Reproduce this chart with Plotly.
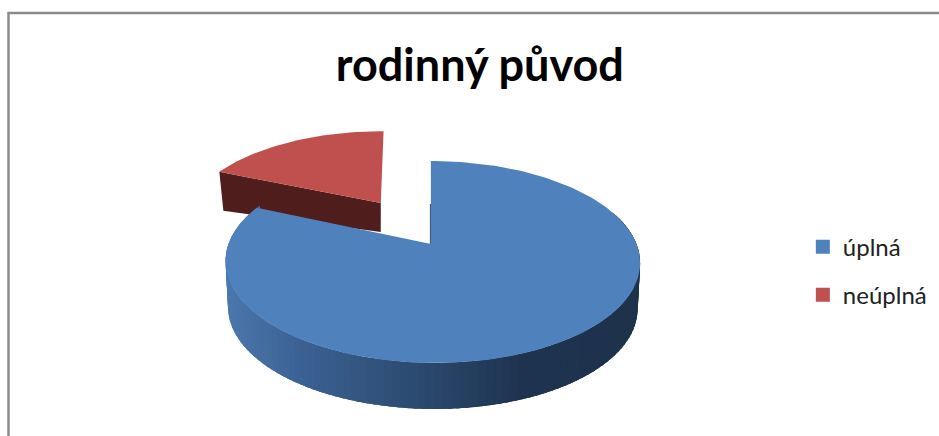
import numpy as np
import plotly.graph_objects as go

# --- data ---
title_text = "rodinný původ"
categories = ["úplná", "neúplná"]
values = [81.5, 18.5]
top_colors = ["#4f81bd", "#c0504d"]
red_side_color = "#4f1e1c"

# --- view of the pie (tilted disc seen with perspective) ---
W, H = 939, 436
CX, CY = 431.0, 244.0     # pixel position of the disc centre
R, B, K = 204.0, 97.8, 0.178
SHEAR_BLUE = 0.02
DEPTH = 46.0
BASE_SHRINK = 0.988
RED_OFFSET = (-0.266, -0.452)
SHEAR_RED = 0.06
RED_DEPTH_LEFT, RED_DEPTH_APEX = 39.0, 29.0


def project(X, Y, shear=0.0, ref=CY, shift=0.0):
    X, Y = np.asarray(X, float), np.asarray(Y, float)
    s = 1.0 / (1.0 - K * Y)
    y = CY + B * Y * s
    x = CX + shift + R * X * s + shear * (y - ref)
    return x, y


total = sum(values)
sweep = 360.0 * values[0] / total   # first slice clockwise from 12 o'clock

fig = go.Figure()

# --- second slice, pulled out ---
th = np.radians(np.linspace(sweep, 360.0, 50))
ox, oy = RED_OFFSET
ax, ay = project([ox], [oy])
ref_red = float(ay[0])
ax, ay = project([ox], [oy], SHEAR_RED, ref_red)
rx, ry = project(ox + np.sin(th), oy - np.cos(th), SHEAR_RED, ref_red)
lx, ly = rx[0], ry[0]
side_x = [lx, ax[0], ax[0], lx + 4]
side_y = [ly, ay[0], ay[0] + RED_DEPTH_APEX, ly + RED_DEPTH_LEFT]
fig.add_trace(go.Scatter(x=side_x, y=side_y, fill="toself", mode="lines",
                         fillcolor=red_side_color, line=dict(width=0),
                         showlegend=False, hoverinfo="skip"))
fig.add_trace(go.Scatter(x=np.r_[ax, rx], y=np.r_[ay, ry], fill="toself", mode="lines",
                         fillcolor=top_colors[1], line=dict(width=0),
                         showlegend=False, hoverinfo="skip"))

# --- first slice: shaded rim ---
steps = np.arange(70.0, 292.0, 2.0)
shade_x = [226, 300, 420, 520, 640]
shade_r = [76, 60, 44, 31, 30]
shade_g = [120, 98, 74, 52, 50]
shade_b = [174, 148, 112, 80, 76]
for a0 in steps:
    t = np.radians(np.linspace(a0, a0 + 5.0, 4))
    tx, ty = project(np.sin(t), -np.cos(t), SHEAR_BLUE, shift=1.5)
    bx = CX + (tx - CX) * BASE_SHRINK
    by = ty + DEPTH
    mx = tx[0:2].mean()
    col = "rgb(%d,%d,%d)" % (np.interp(mx, shade_x, shade_r),
                             np.interp(mx, shade_x, shade_g),
                             np.interp(mx, shade_x, shade_b))
    fig.add_trace(go.Scatter(x=np.r_[tx, bx[::-1]], y=np.r_[ty, by[::-1]], fill="toself",
                             mode="lines", fillcolor=col, line=dict(width=0),
                             showlegend=False, hoverinfo="skip"))

# --- first slice: top ---
th = np.radians(np.linspace(0.0, sweep, 180))
bx_top, by_top = project(np.sin(th), -np.cos(th), SHEAR_BLUE, shift=1.5)
fig.add_trace(go.Scatter(x=np.r_[CX, bx_top], y=np.r_[CY, by_top], fill="toself", mode="lines",
                         fillcolor=top_colors[0], line=dict(width=0),
                         showlegend=False, hoverinfo="skip"))
# thin dark inner wall next to the 12 o'clock cut
fig.add_trace(go.Scatter(x=[CX - 0.6, CX - 0.6], y=[CY - 40, CY], mode="lines",
                         line=dict(color="#2a4a70", width=1), showlegend=False, hoverinfo="skip"))

# --- legend entries ---
for i, (name, col) in enumerate(zip(categories, top_colors)):
    fig.add_trace(go.Scatter(x=[None], y=[None], mode="markers", name=name, legendgroup=name,
                             marker=dict(symbol="square", size=14, color=col)))

fig.update_layout(
    width=W, height=H, margin=dict(l=0, r=0, t=0, b=0),
    paper_bgcolor="white", plot_bgcolor="white",
    title=dict(text="<b>%s</b>" % title_text, x=0.511, xanchor="center", y=0.85, yanchor="middle",
               font=dict(family="Lato, Open Sans, sans-serif", size=45, color="black")),
    xaxis=dict(range=[0, W], visible=False, fixedrange=True),
    yaxis=dict(range=[H, 0], visible=False, fixedrange=True),
    legend=dict(x=0.855, y=0.485, xanchor="left", yanchor="top", tracegroupgap=14,
                font=dict(family="Lato, sans-serif", size=24, color="#222222"),
                bgcolor="rgba(0,0,0,0)", itemwidth=30),
    shapes=[dict(type="rect", xref="x", yref="y", x0=8.5, y0=13, x1=W + 20, y1=H + 20,
                 line=dict(color="#8a8a8a", width=2.5), layer="below")],
)

fig.write_html("out.html", post_script="document.body.style.margin='0';",
               config={"displayModeBar": False})
